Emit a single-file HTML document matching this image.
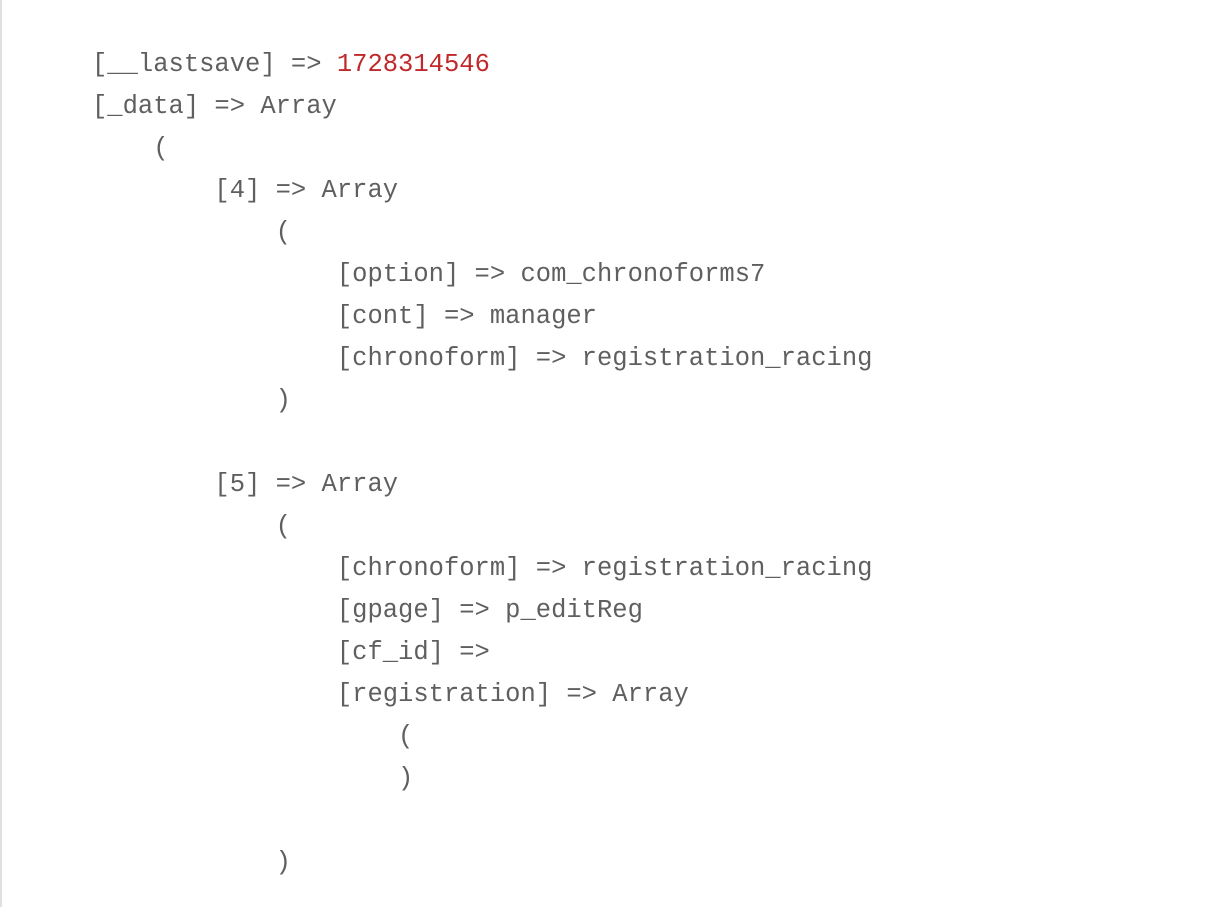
<!DOCTYPE html>
<html><head><meta charset="utf-8"><style>
html,body{margin:0;padding:0;background:#fff;width:1232px;height:907px;overflow:hidden;}
.b{position:absolute;left:0;top:0;width:2px;height:907px;background:#e0e0e0;}
pre{position:absolute;left:92px;top:44px;margin:0;font-family:"Liberation Mono",monospace;font-size:25.5px;line-height:42px;color:#5f5f5f;}
.r{color:#c0282b;}
</style></head><body><div class="b"></div>
<pre>[__lastsave] =&gt; <span class="r">1728314546</span>
[_data] =&gt; Array
    (
        [4] =&gt; Array
            (
                [option] =&gt; com_chronoforms7
                [cont] =&gt; manager
                [chronoform] =&gt; registration_racing
            )

        [5] =&gt; Array
            (
                [chronoform] =&gt; registration_racing
                [gpage] =&gt; p_editReg
                [cf_id] =&gt; 
                [registration] =&gt; Array
                    (
                    )

            )
</pre>
</body></html>
